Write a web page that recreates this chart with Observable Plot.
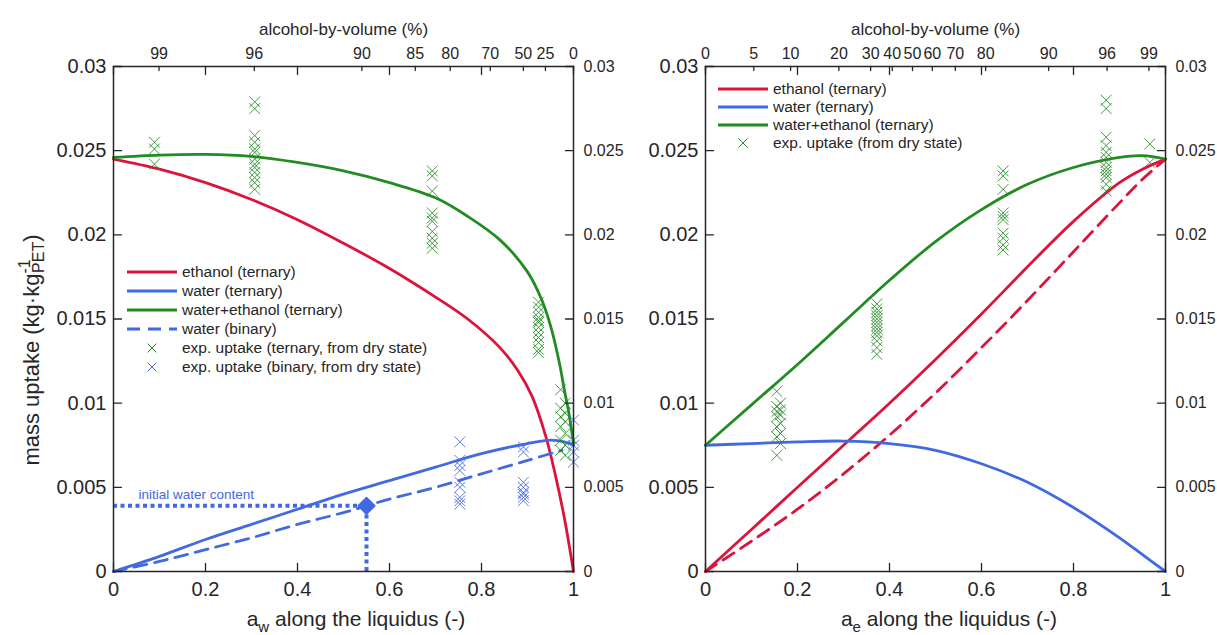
<!DOCTYPE html>
<html><head><meta charset="utf-8">
<script src="https://cdn.jsdelivr.net/npm/d3@7"></script>
<script src="https://cdn.jsdelivr.net/npm/@observablehq/plot@0.6"></script>
<style>
html,body{margin:0;padding:0;background:#fff;}
#wrap{position:relative;width:1217px;height:635px;overflow:hidden;}
#wrap svg{position:absolute;top:0;left:0;overflow:visible;}
</style></head><body><div id="wrap"></div>
<script>
const RED="#DC143C", BLUE="#4169E1", GREEN="#228B22", AX="#262626";
const FONT="'Liberation Sans', Arial, Helvetica, sans-serif";

// ---- axes ----
const xTicks=[0,0.2,0.4,0.6,0.8,1];
const yTicks=[0,0.005,0.01,0.015,0.02,0.025,0.03];
const abvLabelsL=[99,96,90,85,80,70,50,25,0];
const abvPosL=[0.099,0.306,0.540,0.656,0.732,0.819,0.891,0.939,1.0];
const abvLabelsR=[0,5,10,20,30,40,50,60,70,80,90,96,99];
const abvPosR=[0,0.105,0.185,0.290,0.359,0.406,0.450,0.493,0.543,0.609,0.746,0.873,0.964];

// ---- left panel: curves vs a_w ----
const awMixL=[0,0.1,0.2,0.3,0.4,0.5,0.6,0.7,0.77,0.84,0.9,0.93,0.95,0.97,0.98,0.99,1.0];
const mixTernL=[0.0246,0.02474,0.02478,0.02466,0.0243,0.0238,0.0231,0.0222,0.0211,0.0197,0.0178,0.0162,0.0146,0.0123,0.0108,0.0094,0.0076];
const awEthL=[0,0.1,0.2,0.3,0.4,0.5,0.6,0.7,0.77,0.84,0.88,0.91,0.94,0.96,0.98,1.0];
const ethTernL=[0.0245,0.0239,0.0231,0.0221,0.0209,0.0195,0.0180,0.0163,0.0150,0.0133,0.0119,0.0104,0.0080,0.0058,0.0032,0.0];
const awWatL=[0,0.1,0.2,0.3,0.4,0.5,0.6,0.7,0.8,0.9,0.95,0.98,1.0];
const watTernL=[0,0.0009,0.0019,0.0028,0.0037,0.0046,0.0054,0.0062,0.0070,0.0076,0.0078,0.0077,0.0075];
const awBinL=[0,0.1,0.2,0.3,0.4,0.5,0.6,0.7,0.8,0.9,0.975];
const watBinL=[0,0.0006,0.0013,0.0020,0.0028,0.0035,0.0043,0.0050,0.0058,0.0066,0.0072];
const initAw=0.55, initWater=0.0039;

const expTernL_x=[0.089,0.307,0.693,0.924,0.972,0.982];
const expTernL_y=[
 [0.0255,0.0251,0.0242],
 [0.0279,0.0275,0.0259,0.0255,0.0251,0.0249,0.0245,0.0242,0.0240,0.0237,0.0234,0.0231,0.0227],
 [0.0238,0.0235,0.0226,0.0213,0.0210,0.0208,0.0202,0.0198,0.0195,0.0192],
 [0.0160,0.0157,0.0154,0.0151,0.0149,0.0148,0.0145,0.0142,0.0139,0.0136,0.0132,0.0130],
 [0.0108,0.0097,0.0092,0.0086,0.0078,0.0072],
 [0.0100,0.0094,0.0089,0.0082,0.0075,0.0069]];
const expBinL_x=[0.753,0.891,1.0];
const expBinL_y=[
 [0.0077,0.0066,0.0063,0.0060,0.0053,0.0050,0.0044,0.0042,0.0040],
 [0.0074,0.0071,0.0053,0.0050,0.0047,0.0046,0.0044,0.0042],
 [0.0090,0.0078,0.0075,0.0071,0.0065]];

// ---- right panel: curves vs a_e ----
const aeGrid=[0,0.1,0.2,0.3,0.4,0.5,0.6,0.7,0.8,0.9,0.95,1.0];
const mixTernR=[0.0075,0.0099,0.0123,0.0148,0.0173,0.0196,0.0215,0.0230,0.0240,0.0246,0.0247,0.0245];
const ethTernR=[0,0.0025,0.0050,0.0075,0.0100,0.0126,0.0153,0.0181,0.0208,0.0231,0.0239,0.0245];
const ethBinR=[0,0.0018,0.0037,0.0058,0.0081,0.0106,0.0133,0.0161,0.0190,0.0219,0.0233,0.0245];
const watTernR=[0.0075,0.0076,0.0077,0.00775,0.0076,0.0072,0.0064,0.0053,0.0038,0.0020,0.0010,0];
const expR_x=[0.155,0.163,0.3725,0.647,0.871,0.966];
const expR_y=[
 [0.0107,0.0098,0.0095,0.0092,0.0086,0.0080,0.0069],
 [0.0100,0.0096,0.0093,0.0088,0.0082,0.0076],
 [0.0159,0.0156,0.0154,0.0152,0.0150,0.0148,0.0146,0.0144,0.0142,0.0140,0.0137,0.0133,0.0129],
 [0.0238,0.0235,0.0227,0.0213,0.0211,0.0209,0.0201,0.0198,0.0194,0.0191],
 [0.0280,0.0275,0.0258,0.0253,0.0249,0.0246,0.0243,0.0240,0.0238,0.0236,0.0234,0.0230,0.0226],
 [0.0254,0.0243]];

// ---- legends ----
const legLabelsL=["ethanol (ternary)","water (ternary)","water+ethanol (ternary)","water (binary)","exp. uptake (ternary, from dry state)","exp. uptake (binary, from dry state)"];
const legColorsL=[RED,BLUE,GREEN,BLUE,GREEN,BLUE];
const legKindsL=["line","line","line","dash","x","x"];
const legLabelsR=["ethanol (ternary)","water (ternary)","water+ethanol (ternary)","exp. uptake (from dry state)"];
const legColorsR=[RED,BLUE,GREEN,GREEN];
const legKindsR=["line","line","line","x"];

// ---- helpers ----
const pts=(xs,ys)=>xs.map((x,i)=>({x,y:ys[i]}));
const cluster=(xs,ys)=>xs.flatMap((x,i)=>ys[i].map(y=>({x,y})));
const tickShape={draw(c,l){c.moveTo(0,0);c.lineTo(0,-l);}};
const fmt=d=>String(d);

function frameMarks(abvPos, abvLabels, rightFont, leftFont){
  const o={stroke:AX,strokeWidth:1.3,anchor:"start",shape:tickShape};
  return [
    Plot.axisX(xTicks,{anchor:"bottom",tickSize:0,tickPadding:10,fontSize:20,tickFormat:fmt,label:null,color:AX}),
    Plot.axisY(yTicks,{anchor:"left",tickSize:0,tickPadding:7,fontSize:leftFont,tickFormat:fmt,label:null,color:AX}),
    Plot.axisY(yTicks,{anchor:"right",tickSize:0,tickPadding:10,fontSize:rightFont,tickFormat:fmt,label:null,color:AX}),
    Plot.vectorX(xTicks,{x:d=>d,frameAnchor:"bottom",length:8,rotate:0,...o}),
    Plot.vectorX(xTicks,{x:d=>d,frameAnchor:"top",length:8,rotate:180,...o}),
    Plot.vectorX(abvPos,{x:d=>d,frameAnchor:"top",length:4,rotate:180,...o}),
    Plot.vectorY(yTicks,{y:d=>d,frameAnchor:"left",length:8,rotate:90,...o}),
    Plot.vectorY(yTicks,{y:d=>d,frameAnchor:"right",length:8,rotate:-90,...o}),
    Plot.text(abvPos,{x:d=>d,text:(d,i)=>String(abvLabels[i]),frameAnchor:"top",dy:-19,fontSize:16,fill:AX}),
    Plot.text(["alcohol-by-volume (%)"],{frameAnchor:"top",dy:-44,fontSize:17,fill:AX}),
    Plot.frame({stroke:AX,strokeWidth:1.5})
  ];
}
const lineOpt=(c,extra={})=>({x:"x",y:"y",stroke:c,strokeWidth:2.8,curve:"catmull-rom",...extra});
const xOpt=c=>({x:"x",y:"y",symbol:"times",r:5,stroke:c,strokeWidth:1,strokeOpacity:0.85});

const common={width:1217,height:635,marginTop:66,marginBottom:64,
  x:{domain:[0,1]},y:{domain:[0,0.03]},
  style:{fontFamily:FONT,background:"transparent",overflow:"visible",color:AX}};

const left=Plot.plot({...common,marginLeft:113,marginRight:644,
  marks:[
    Plot.line(pts(awEthL,ethTernL),lineOpt(RED)),
    Plot.line(pts(awWatL,watTernL),lineOpt(BLUE)),
    Plot.line(pts(awMixL,mixTernL),lineOpt(GREEN)),
    Plot.line(pts(awBinL,watBinL),lineOpt(BLUE,{strokeDasharray:"13,8"})),
    Plot.dot(cluster(expTernL_x,expTernL_y),xOpt(GREEN)),
    Plot.dot(cluster(expBinL_x,expBinL_y),xOpt(BLUE)),
    Plot.ruleY([initWater],{x1:0,x2:initAw,stroke:BLUE,strokeWidth:4,strokeDasharray:"4,3.5"}),
    Plot.ruleX([initAw],{y1:0,y2:initWater,stroke:BLUE,strokeWidth:4,strokeDasharray:"4,3.5"}),
    Plot.dot([{x:initAw,y:initWater}],{x:"x",y:"y",symbol:"diamond2",r:7.5,fill:BLUE,stroke:BLUE}),
    Plot.text(["initial water content"],{x:0,y:initWater,dx:25,dy:-11,textAnchor:"start",fontSize:13.5,fill:BLUE}),
    ...frameMarks(abvPosL,abvLabelsL,16,20)
  ]});

const right=Plot.plot({...common,marginLeft:705,marginRight:52,
  marks:[
    Plot.line(pts(aeGrid,ethTernR),lineOpt(RED)),
    Plot.line(pts(aeGrid,ethBinR),lineOpt(RED,{strokeDasharray:"13,8"})),
    Plot.line(pts(aeGrid,watTernR),lineOpt(BLUE)),
    Plot.line(pts(aeGrid,mixTernR),lineOpt(GREEN)),
    Plot.dot(cluster(expR_x,expR_y),xOpt(GREEN)),
    ...frameMarks(abvPosR,abvLabelsR,16,20)
  ]});

const wrap=document.getElementById("wrap");
wrap.appendChild(left); wrap.appendChild(right);

function legend(svg,labels,colors,kinds,x0,y0,step){
  const g=d3.select(svg).append("g").attr("font-family",FONT).attr("font-size",15.5)
    .attr("fill",AX).attr("text-anchor","start");
  labels.forEach((lab,i)=>{
    const y=y0+i*step, c=colors[i], k=kinds[i];
    if(k==="x"){
      const cx=x0+25, r=4.5;
      g.append("path").attr("d",`M${cx-r},${y-r}L${cx+r},${y+r}M${cx-r},${y+r}L${cx+r},${y-r}`)
        .attr("stroke",c).attr("stroke-width",1).attr("fill","none");
    } else {
      g.append("line").attr("x1",x0).attr("x2",x0+50).attr("y1",y).attr("y2",y)
        .attr("stroke",c).attr("stroke-width",2.8).attr("stroke-dasharray",k==="dash"?"13,8":null);
    }
    g.append("text").attr("x",x0+55).attr("y",y).attr("dy","0.35em").text(lab);
  });
}
legend(left,legLabelsL,legColorsL,legKindsL,127,272,19);
legend(right,legLabelsR,legColorsR,legKindsR,718,89,18);

// axis titles with sub/superscripts
function xTitle(svg,cx,sub){
  const t=d3.select(svg).append("text").attr("x",cx).attr("y",626).attr("text-anchor","middle")
    .attr("font-family",FONT).attr("font-size",21).attr("fill",AX);
  t.append("tspan").text("a");
  t.append("tspan").attr("font-size",15).attr("dy",6).text(sub);
  t.append("tspan").attr("dy",-6).text(" along the liquidus (-)");
}
xTitle(left,356,"w");
xTitle(right,949,"e");
{
  const t=d3.select(left).append("text").attr("transform","translate(39,350) rotate(-90)")
    .attr("text-anchor","middle").attr("font-family",FONT).attr("font-size",22).attr("fill",AX);
  t.append("tspan").text("mass uptake (kg·kg");
  t.append("tspan").attr("font-size",16).attr("dy",-9).text("-1");
  t.append("tspan").attr("font-size",16).attr("dx",-13.5).attr("dy",14).text("PET");
  t.append("tspan").attr("dy",-5).text(")");
}
</script></body></html>
